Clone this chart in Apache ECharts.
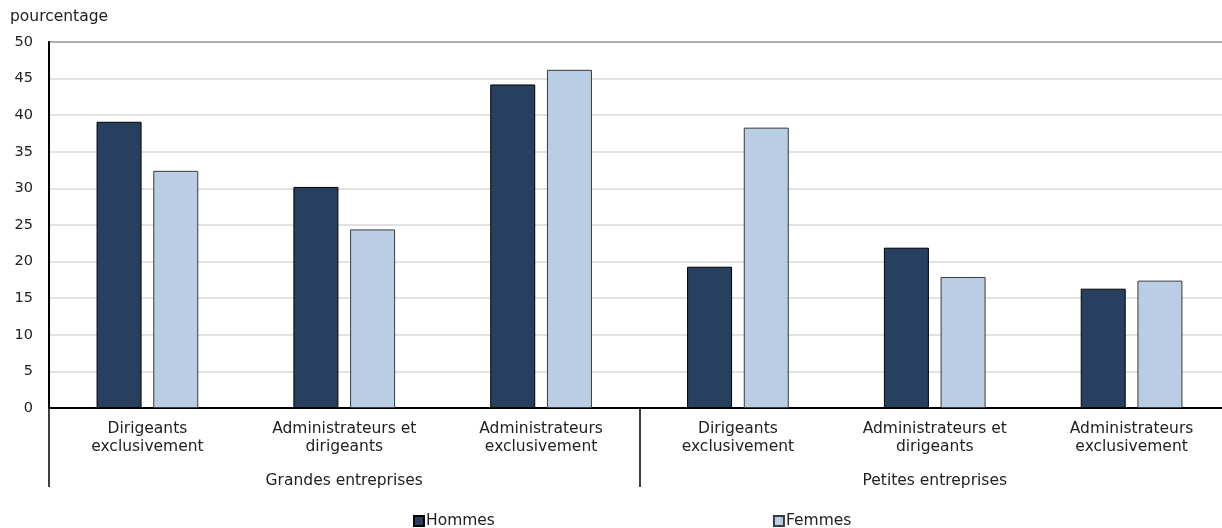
<!DOCTYPE html>
<html>
<head>
<meta charset="utf-8">
<script src="https://cdn.jsdelivr.net/npm/echarts@6/dist/echarts.min.js"></script>
<style>
html,body{margin:0;padding:0;background:#fff;}
#chart{width:1222px;height:528px;}
</style>
</head>
<body>
<div id="chart"></div>
<script>
const categories = [
  'Dirigeants\nexclusivement',
  'Administrateurs et\ndirigeants',
  'Administrateurs\nexclusivement',
  'Dirigeants\nexclusivement',
  'Administrateurs et\ndirigeants',
  'Administrateurs\nexclusivement'
];
const groups = ['Grandes entreprises', 'Petites entreprises'];
const hommes = [39.1, 30.2, 44.2, 19.3, 21.9, 16.3];
const femmes = [32.4, 24.4, 46.2, 38.3, 17.9, 17.4];
const yTicks = { min: 0, max: 50, interval: 5 };
const yAxisTitle = 'pourcentage';
const seriesNames = ['Hommes', 'Femmes'];

const FONT = 'DejaVu Sans';
const chart = echarts.init(document.getElementById('chart'), null, { renderer: 'canvas' });
chart.setOption({
  animation: false,
  backgroundColor: '#ffffff',
  textStyle: { fontFamily: FONT },
  graphic: [{
    type: 'text', x: 10, y: 17,
    style: { text: yAxisTitle, font: '15.5px ' + FONT, fill: '#222', verticalAlign: 'middle' }
  }],
  legend: {
    left: 408, top: 508, itemGap: 278, padding: 5,
    itemWidth: 10, itemHeight: 10, icon: 'rect',
    textStyle: { fontSize: 15.5, color: '#222', fontFamily: FONT, padding: [0, 0, 0, -3] },
    data: seriesNames
  },
  grid: {
    left: 49, top: 42, width: 1181, height: 366,
    outerBoundsMode: 'none', containLabel: false,
    show: true, borderColor: '#333', borderWidth: 2, backgroundColor: 'transparent'
  },
  xAxis: [{
    type: 'category', data: categories, gridIndex: 0,
    axisLine: { show: true, lineStyle: { color: '#000', width: 2 } },
    axisTick: { show: false },
    axisLabel: { interval: 0, fontSize: 15.5, lineHeight: 18, color: '#222', margin: 12, fontFamily: FONT }
  }, {
    type: 'category', data: groups, gridIndex: 0, position: 'bottom', offset: 79,
    axisLine: { show: false },
    axisTick: { show: true, inside: true, length: 79, lineStyle: { color: '#000', width: 1.5 } },
    axisLabel: { interval: 0, inside: true, fontSize: 15.5, color: '#222', margin: 6, verticalAlign: 'middle', fontFamily: FONT }
  }],
  yAxis: {
    type: 'value', min: yTicks.min, max: yTicks.max, interval: yTicks.interval,
    axisLine: { show: true, lineStyle: { color: '#000', width: 2 } },
    axisTick: { show: false },
    axisLabel: { fontSize: 14.5, color: '#222', margin: 16, fontFamily: FONT },
    splitLine: { show: true, lineStyle: { color: '#D9D9D9', width: 1.5 } }
  },
  series: [{
    name: seriesNames[0], type: 'bar', data: hommes, xAxisIndex: 0,
    barWidth: 45, barGap: '26%',
    itemStyle: { color: '#274060', borderColor: '#000', borderWidth: 1 }
  }, {
    name: seriesNames[1], type: 'bar', data: femmes, xAxisIndex: 0,
    barWidth: 45, barGap: '26%',
    itemStyle: { color: '#B9CDE4', borderColor: '#3a3a3a', borderWidth: 1 }
  }]
});
</script>
</body>
</html>
